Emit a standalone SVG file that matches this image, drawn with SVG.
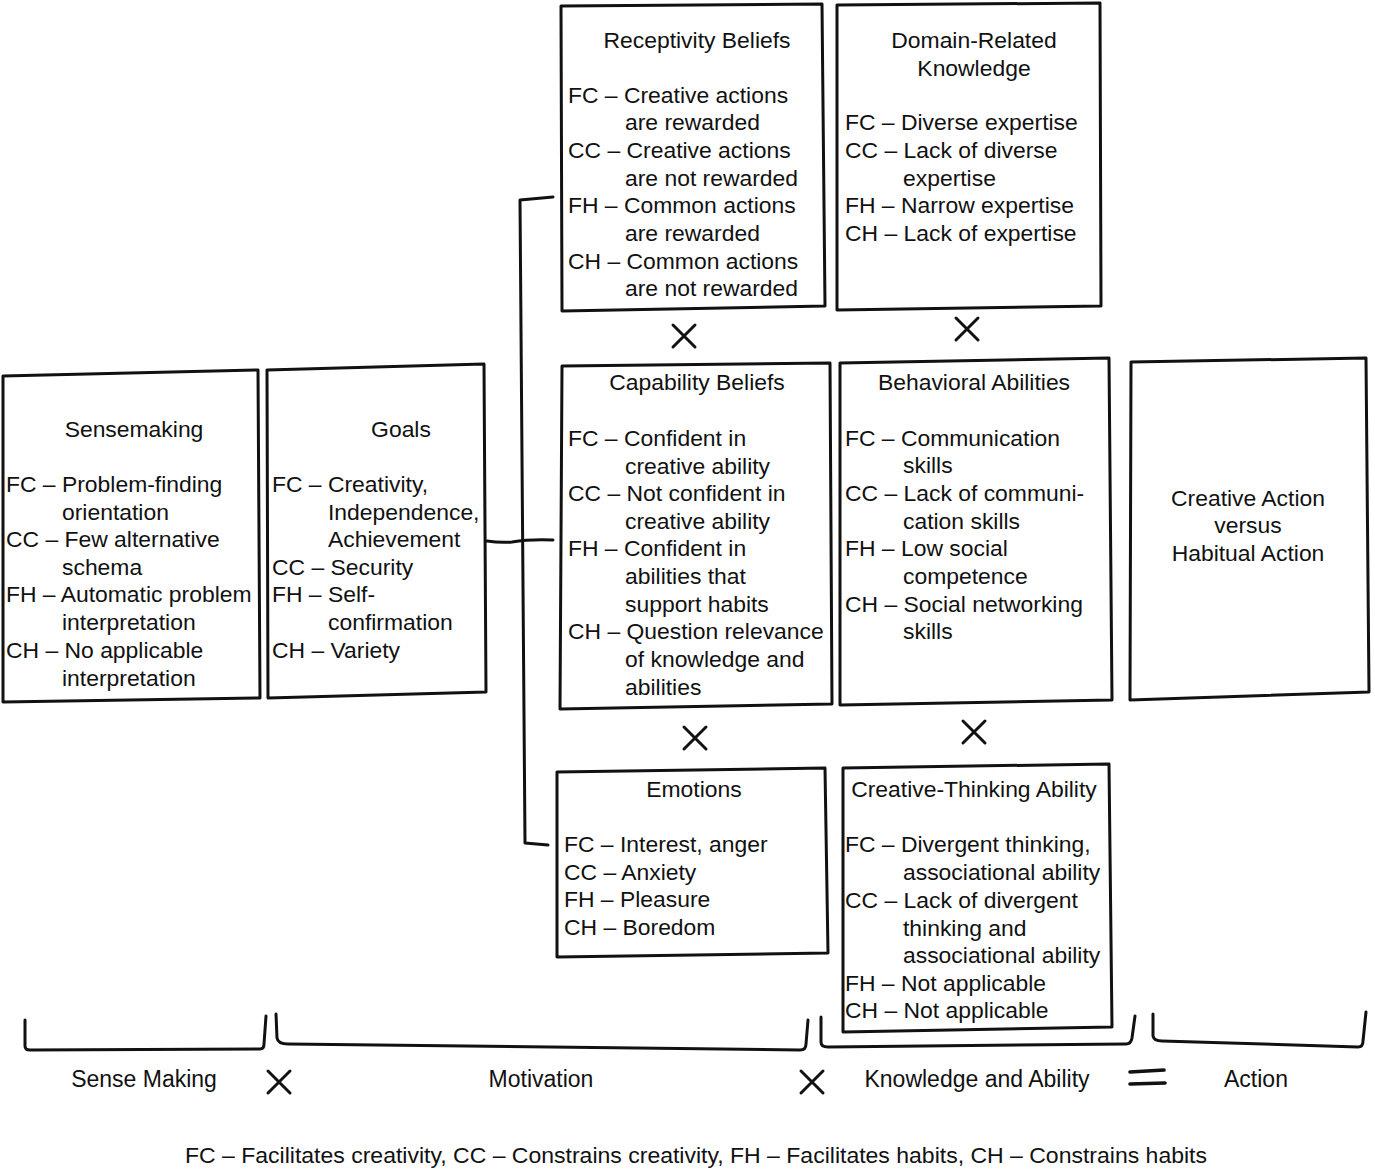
<svg xmlns="http://www.w3.org/2000/svg" width="1375" height="1171" viewBox="0 0 1375 1171">
<style>
.box{fill:#fff;stroke:#111;stroke-width:3;stroke-linejoin:round;stroke-linecap:round}
.ln{fill:none;stroke:#111;stroke-width:3;stroke-linejoin:round;stroke-linecap:round}
text{font-family:"Liberation Sans",Arial,Helvetica,sans-serif;font-size:22.9px;fill:#111}
.c{text-anchor:middle}
.lbl{font-size:23px}
.leg{font-size:22px}
</style>
<defs>
<path id="xm" d="M-11,-11 L11,11 M11,-11 L-11,11" class="ln"/>
</defs>

<g id="connectors">
<path class="ln" d="M553,197 L520,200 Q522,520 525,843 L548,845"/>
<path class="ln" d="M487,541 Q500,543 512,542 Q530,539 553,540"/>
</g>

<g id="sensemaking">
<path class="box" d="M3,376 L258,370 L260,698 L3,702 Z"/>
<text class="c" x="134" y="437">Sensemaking</text>
<text x="6" y="492">FC – Problem-finding</text>
<text x="62" y="520">orientation</text>
<text x="6" y="547">CC – Few alternative</text>
<text x="62" y="575">schema</text>
<text x="6" y="602">FH – Automatic problem</text>
<text x="62" y="630">interpretation</text>
<text x="6" y="658">CH – No applicable</text>
<text x="62" y="686">interpretation</text>
</g>

<g id="goals">
<path class="box" d="M267,370 L484,364 L486,692 L268,698 Z"/>
<text class="c" x="401" y="437">Goals</text>
<text x="272" y="492">FC – Creativity,</text>
<text x="328" y="520">Independence,</text>
<text x="328" y="547">Achievement</text>
<text x="272" y="575">CC – Security</text>
<text x="272" y="602">FH – Self-</text>
<text x="328" y="630">confirmation</text>
<text x="272" y="658">CH – Variety</text>
</g>

<g id="receptivity">
<path class="box" d="M561,6 L822,4 L825,306 L562,311 Z"/>
<text class="c" x="697" y="48">Receptivity Beliefs</text>
<text x="568" y="103">FC – Creative actions</text>
<text x="625" y="130">are rewarded</text>
<text x="568" y="158">CC – Creative actions</text>
<text x="625" y="186">are not rewarded</text>
<text x="568" y="213">FH – Common actions</text>
<text x="625" y="241">are rewarded</text>
<text x="568" y="269">CH – Common actions</text>
<text x="625" y="296">are not rewarded</text>
</g>

<g id="domain">
<path class="box" d="M837,5 L1100,3 L1101,306 L837,310 Z"/>
<text class="c" x="974" y="48">Domain-Related</text>
<text class="c" x="974" y="76">Knowledge</text>
<text x="845" y="130">FC – Diverse expertise</text>
<text x="845" y="158">CC – Lack of diverse</text>
<text x="903" y="186">expertise</text>
<text x="845" y="213">FH – Narrow expertise</text>
<text x="845" y="241">CH – Lack of expertise</text>
</g>

<g id="capability">
<path class="box" d="M562,366 L830,363 L832,704 L560,709 Z"/>
<text class="c" x="697" y="390">Capability Beliefs</text>
<text x="568" y="446">FC – Confident in</text>
<text x="625" y="474">creative ability</text>
<text x="568" y="501">CC – Not confident in</text>
<text x="625" y="529">creative ability</text>
<text x="568" y="556">FH – Confident in</text>
<text x="625" y="584">abilities that</text>
<text x="625" y="612">support habits</text>
<text x="568" y="639">CH – Question relevance</text>
<text x="625" y="667">of knowledge and</text>
<text x="625" y="695">abilities</text>
</g>

<g id="behavioral">
<path class="box" d="M840,363 L1109,358 L1112,700 L840,705 Z"/>
<text class="c" x="974" y="390">Behavioral Abilities</text>
<text x="845" y="446">FC – Communication</text>
<text x="903" y="473">skills</text>
<text x="845" y="501">CC – Lack of communi-</text>
<text x="903" y="529">cation skills</text>
<text x="845" y="556">FH – Low social</text>
<text x="903" y="584">competence</text>
<text x="845" y="612">CH – Social networking</text>
<text x="903" y="639">skills</text>
</g>

<g id="creative-action">
<path class="box" d="M1131,362 L1366,358 L1369,692 L1130,700 Z"/>
<text class="c" x="1248" y="506">Creative Action</text>
<text class="c" x="1248" y="533">versus</text>
<text class="c" x="1248" y="561">Habitual Action</text>
</g>

<g id="emotions">
<path class="box" d="M557,772 L825,768 L828,953 L557,957 Z"/>
<text class="c" x="694" y="797">Emotions</text>
<text x="564" y="852">FC – Interest, anger</text>
<text x="564" y="880">CC – Anxiety</text>
<text x="564" y="907">FH – Pleasure</text>
<text x="564" y="935">CH – Boredom</text>
</g>

<g id="creative-thinking">
<path class="box" d="M843,768 L1109,764 L1112,1027 L843,1032 Z"/>
<text class="c" x="974" y="797">Creative-Thinking Ability</text>
<text x="845" y="852">FC – Divergent thinking,</text>
<text x="903" y="880">associational ability</text>
<text x="845" y="908">CC – Lack of divergent</text>
<text x="903" y="936">thinking and</text>
<text x="903" y="963">associational ability</text>
<text x="845" y="991">FH – Not applicable</text>
<text x="845" y="1018">CH – Not applicable</text>
</g>

<g id="operators">
<use href="#xm" x="684" y="336"/>
<use href="#xm" x="967" y="329"/>
<use href="#xm" x="695" y="738"/>
<use href="#xm" x="974" y="732"/>
<use href="#xm" x="279" y="1082"/>
<use href="#xm" x="812" y="1082"/>
<path class="ln" style="stroke-width:3.6" d="M1130,1072 L1164,1070 M1130,1084 L1165,1083"/>
</g>

<g id="brackets">
<path class="ln" d="M25,1020 L25,1046 Q25,1050 30,1050 L260,1049 Q264,1049 264,1044 L266,1016"/>
<path class="ln" d="M276,1014 L277,1038 Q278,1044 288,1044 L800,1050 Q806,1050 806,1044 L808,1020"/>
<path class="ln" d="M821,1017 L821,1042 Q821,1047 828,1047 L1126,1044 Q1131,1044 1132,1038 L1135,1016"/>
<path class="ln" d="M1153,1014 L1153,1036 Q1154,1041 1162,1041 L1358,1047 Q1363,1047 1363,1041 L1366,1012"/>
</g>

<g id="labels">
<text class="c lbl" x="144" y="1087">Sense Making</text>
<text class="c lbl" x="541" y="1087">Motivation</text>
<text class="c lbl" x="977" y="1087">Knowledge and Ability</text>
<text class="c lbl" x="1256" y="1087">Action</text>
<text class="c leg" x="696" y="1163" textLength="1022" lengthAdjust="spacingAndGlyphs">FC – Facilitates creativity, CC – Constrains creativity, FH – Facilitates habits, CH – Constrains habits</text>
</g>
</svg>
